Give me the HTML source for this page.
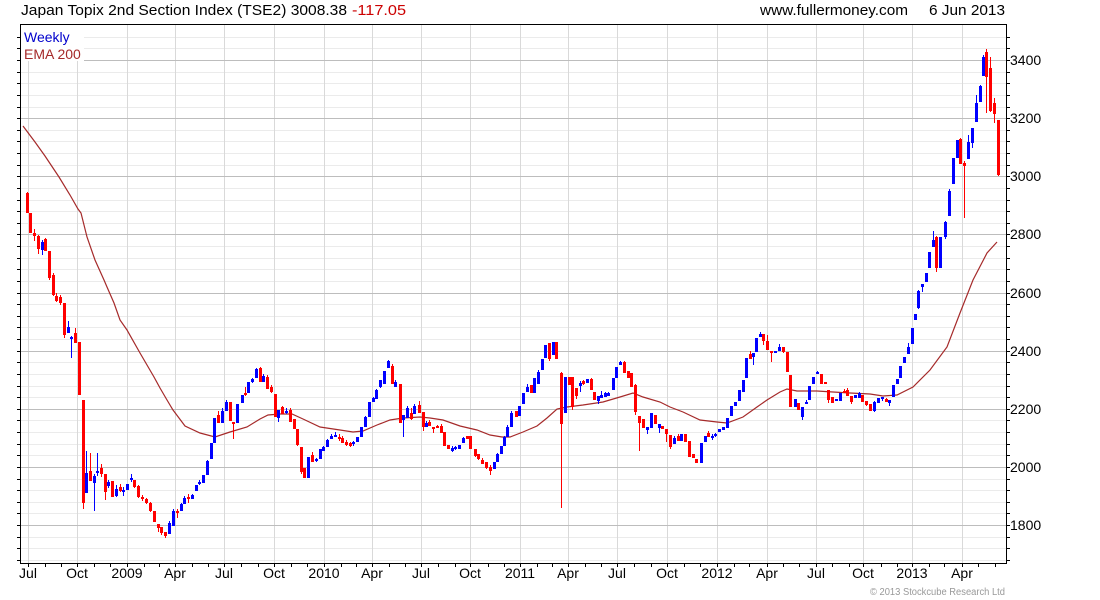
<!DOCTYPE html>
<html><head><meta charset="utf-8"><style>
html,body{margin:0;padding:0;background:#fff;}
svg{display:block;font-family:"Liberation Sans",Arial,sans-serif;}
</style></head><body>
<svg width="1100" height="600" viewBox="0 0 1100 600" xmlns="http://www.w3.org/2000/svg">
<rect width="1100" height="600" fill="#fff"/>
<!-- minor horizontal grid -->
<path fill="none" stroke="#ebebeb" stroke-width="1" d="M21 560.5H1006M21 548.5H1006M21 537.5H1006M21 513.5H1006M21 502.5H1006M21 490.5H1006M21 479.5H1006M21 455.5H1006M21 444.5H1006M21 432.5H1006M21 420.5H1006M21 397.5H1006M21 386.5H1006M21 374.5H1006M21 362.5H1006M21 339.5H1006M21 327.5H1006M21 316.5H1006M21 304.5H1006M21 281.5H1006M21 269.5H1006M21 258.5H1006M21 246.5H1006M21 223.5H1006M21 211.5H1006M21 200.5H1006M21 188.5H1006M21 165.5H1006M21 153.5H1006M21 141.5H1006M21 130.5H1006M21 107.5H1006M21 95.5H1006M21 83.5H1006M21 72.5H1006M21 48.5H1006M21 37.5H1006"/>
<!-- vertical grid -->
<path fill="none" stroke="#d9d9d9" stroke-width="1" d="M28.5 25V563M77.5 25V563M127.5 25V563M175.5 25V563M224.5 25V563M274.5 25V563M324.5 25V563M372.5 25V563M421.5 25V563M470.5 25V563M520.5 25V563M568.5 25V563M617.5 25V563M667.5 25V563M717.5 25V563M767.5 25V563M816.5 25V563M863.5 25V563M912.5 25V563M962.5 25V563"/>
<!-- major horizontal grid -->
<path fill="none" stroke="#bdbdbd" stroke-width="1" d="M21 525.5H1006M21 467.5H1006M21 409.5H1006M21 351.5H1006M21 293.5H1006M21 234.5H1006M21 176.5H1006M21 118.5H1006M21 60.5H1006"/>
<!-- legend background -->
<rect x="21" y="25" width="63" height="36" fill="#fff"/>
<text x="24" y="42" font-size="14" fill="#0000cc">Weekly</text>
<text x="24" y="59" font-size="14" fill="#a52a2a">EMA 200</text>
<!-- EMA -->
<polyline fill="none" stroke="#a52a2a" stroke-width="1.2" points="23,126 35,142 45,156 59,177 70,195 78,209 81,213 87,237 95,260 104,280 107,287 114,303 120,320 127,330 140,353 154,377 160,388 167,400 173,410 185,426 200,433 215,437 230,432 247,427 260,419 268,415 280,414 292,414 303,419 320,427 340,430 353,432 363,431 377,425 390,420 403,418 420,417 430,418 443,420 460,426 477,430 490,435 502,437 510,437 523,432 537,426 547,418 557,409 567,407 583,405 603,402 620,397 633,393 643,397 660,402 670,407 683,412 700,420 717,422 727,423 743,417 757,407 767,400 780,392 787,389 797,391 817,391 833,392 850,393 870,394 883,396 897,395 913,387 930,370 947,347 960,313 973,280 987,253 997,242"/>
<!-- red wicks -->
<path fill="none" stroke="#ff0000" stroke-width="1" d="M27.5 192V213M34.5 229V241M38.5 235V254M45.5 238V251M49.5 251V280M53.5 273V296M56.5 293V302M60.5 295V305M64.5 303V338M75.5 328V343M83.5 400V509M90.5 453V481M101.5 464V477M105.5 474V500M120.5 484V492M134.5 480V488M138.5 485V498M142.5 495V501M146.5 498V504M150.5 502V512M158.5 524V532M161.5 527V535M165.5 532V538M177.5 509V518M188.5 494V503M218.5 411V423M233.5 422V439M245.5 387V396M260.5 367V382M267.5 375V389M271.5 385V393M282.5 406V414M290.5 408V422M297.5 429V446M301.5 447V474M312.5 452V462M339.5 434V441M342.5 436V443M346.5 440V446M350.5 442V447M392.5 364V384M411.5 408V420M419.5 401V413M423.5 412V431M429.5 420V426M433.5 427V433M437.5 425V428M441.5 424V433M475.5 449V457M478.5 454V460M482.5 458V464M486.5 462V469M490.5 465V475M549.5 343V361M561.5 372V508M572.5 377V410M576.5 388V399M583.5 380V385M591.5 378V390M624.5 361V373M635.5 384V415M639.5 416V451M666.5 429V442M670.5 435V449M678.5 434V441M708.5 431V437M750.5 351V359M763.5 334V345M767.5 335V350M771.5 351V362M783.5 347V353M828.5 390V403M844.5 389V393M847.5 388V396M851.5 396V404M866.5 401V406M886.5 398V402M936.5 236V272M960.5 138V164M964.5 161V218M986.5 49V113M990.5 57V112M994.5 98V123M998.5 120V176"/>
<!-- red bodies -->
<path fill="none" stroke="#ff0000" stroke-width="3" d="M27.5 193V213M30.5 213V233M34.5 233V236M38.5 236V249M45.5 239V251M49.5 251V278M53.5 275V295M56.5 296V301M60.5 297V303M64.5 303V335M75.5 333V343M79.5 342V395M83.5 400V503M90.5 471V481M101.5 468V474M105.5 474V492M112.5 481V497M120.5 487V491M134.5 480V487M138.5 486V497M142.5 497V499M146.5 499V503M150.5 503V511M154.5 511V522M158.5 524V528M161.5 527V533M165.5 532V536M177.5 511V513M188.5 497V499M218.5 415V423M230.5 402V421M233.5 422V424M245.5 393V395M260.5 368V382M267.5 377V389M271.5 387V392M275.5 394V417M282.5 407V414M290.5 410V422M294.5 419V429M297.5 429V445M301.5 447V472M304.5 468V478M312.5 455V462M339.5 437V439M342.5 438V443M346.5 442V445M350.5 443V446M392.5 366V384M400.5 384V423M411.5 413V419M419.5 405V413M423.5 412V427M429.5 422V426M433.5 427V429M437.5 426V428M441.5 426V433M444.5 432V446M448.5 445V449M467.5 436V439M470.5 436V449M475.5 449V456M478.5 454V459M482.5 460V464M486.5 462V468M490.5 467V471M516.5 411V417M531.5 385V393M549.5 343V359M556.5 342V359M561.5 373V424M569.5 377V385M572.5 377V407M576.5 388V396M583.5 381V384M591.5 379V390M594.5 392V400M624.5 362V373M628.5 371V378M631.5 373V387M635.5 385V412M639.5 416V423M643.5 419V428M655.5 415V424M662.5 426V429M666.5 429V434M670.5 435V447M678.5 436V441M685.5 434V442M689.5 441V457M693.5 454V458M696.5 459V463M708.5 433V437M750.5 354V359M763.5 334V341M767.5 341V350M771.5 351V353M783.5 347V352M787.5 352V372M790.5 375V407M798.5 403V410M821.5 374V384M825.5 382V384M828.5 390V400M832.5 397V403M844.5 391V393M847.5 390V396M851.5 396V402M862.5 395V402M866.5 401V405M870.5 404V411M886.5 399V402M936.5 237V268M960.5 139V164M964.5 163V166M986.5 52V77M990.5 68V111M994.5 103V114M998.5 120V175"/>
<!-- blue wicks -->
<path fill="none" stroke="#0000ff" stroke-width="1" d="M42.5 240V255M68.5 321V333M71.5 336V358M86.5 451V493M94.5 474V511M97.5 453V476M108.5 480V488M116.5 485V497M123.5 487V496M131.5 474V482M169.5 521V534M173.5 509V526M181.5 503V511M184.5 496V504M192.5 494V499M199.5 480V485M207.5 460V475M222.5 408V423M226.5 400V411M252.5 378V383M256.5 368V378M263.5 374V382M278.5 410V422M286.5 408V414M316.5 458V462M323.5 446V451M327.5 439V447M331.5 434V439M335.5 432V437M353.5 441V446M365.5 416V427M373.5 397V402M376.5 389V399M380.5 380V388M388.5 360V368M395.5 380V387M403.5 415V437M407.5 406V418M414.5 404V414M426.5 421V427M452.5 446V452M455.5 446V450M463.5 437V443M497.5 453V462M504.5 436V446M507.5 425V437M511.5 411V427M527.5 384V392M538.5 370V384M580.5 381V392M598.5 396V404M601.5 391V398M605.5 392V397M608.5 392V396M620.5 361V365M647.5 427V434M659.5 424V433M674.5 436V444M712.5 434V440M715.5 433V437M753.5 353V365M760.5 332V337M779.5 344V351M802.5 407V420M806.5 400V404M817.5 371V374M859.5 392V398M874.5 401V412M882.5 397V401M889.5 400V406M908.5 343V354M918.5 290V309M922.5 284V292M933.5 231V247M945.5 221V239M949.5 189V216M968.5 135V159M972.5 128V148M976.5 95V122M980.5 85V102M983.5 55V76"/>
<!-- blue bodies -->
<path fill="none" stroke="#0000ff" stroke-width="3" d="M42.5 242V250M68.5 327V333M71.5 337V339M86.5 473V493M94.5 476V483M97.5 471V473M108.5 482V486M116.5 489V496M123.5 490V492M127.5 484V490M131.5 478V480M169.5 523V534M173.5 511V526M181.5 504V511M184.5 498V504M192.5 495V499M196.5 485V491M199.5 482V484M203.5 475V483M207.5 461V475M211.5 443V459M214.5 418V443M222.5 411V423M226.5 402V411M237.5 404V423M242.5 395V403M248.5 382V393M252.5 379V382M256.5 369V378M263.5 376V382M278.5 410V418M286.5 411V413M308.5 457V478M316.5 459V461M320.5 449V459M323.5 447V451M327.5 440V447M331.5 436V439M335.5 435V437M353.5 442V444M357.5 437V442M361.5 427V437M365.5 417V427M369.5 402V417M373.5 398V402M376.5 390V399M380.5 380V387M384.5 371V384M388.5 361V368M395.5 382V387M403.5 415V420M407.5 408V418M414.5 406V414M426.5 423V427M452.5 448V451M455.5 447V449M459.5 445V449M463.5 438V443M494.5 462V469M497.5 454V462M501.5 446V454M504.5 437V446M507.5 427V437M511.5 413V427M519.5 406V416M523.5 393V404M527.5 387V392M534.5 378V393M538.5 372V384M542.5 359V370M545.5 345V358M553.5 342V355M565.5 377V413M580.5 383V386M587.5 379V383M598.5 396V401M601.5 395V398M605.5 393V397M608.5 393V396M613.5 378V390M616.5 367V378M620.5 362V365M647.5 427V430M651.5 413V428M659.5 424V428M674.5 438V444M681.5 434V441M701.5 443V463M705.5 436V442M712.5 436V438M715.5 434V436M719.5 429V432M723.5 427V430M727.5 418V428M731.5 406V416M735.5 402V406M739.5 390V401M743.5 380V392M746.5 358V378M753.5 353V357M756.5 338V352M760.5 334V337M775.5 351V353M779.5 347V351M795.5 399V407M802.5 407V417M806.5 402V404M809.5 386V400M813.5 377V384M817.5 372V374M836.5 399V401M840.5 393V401M855.5 395V398M859.5 393V398M874.5 402V411M878.5 398V403M882.5 397V399M889.5 400V403M893.5 385V397M897.5 379V384M900.5 366V378M904.5 357V363M908.5 347V354M912.5 328V344M915.5 314V320M918.5 291V308M922.5 284V287M926.5 273V282M929.5 252V268M933.5 240V247M940.5 237V268M945.5 222V237M949.5 191V216M953.5 158V184M957.5 140V158M968.5 142V159M972.5 128V143M976.5 103V122M980.5 86V102M983.5 57V76"/>
<!-- frame -->
<rect x="20.5" y="24.5" width="986" height="539" fill="none" stroke="#000" stroke-width="1"/>
<!-- left/right ticks -->
<path fill="none" stroke="#000" stroke-width="1" d="M17 560.5H20M17 548.5H20M17 537.5H20M17 525.5H20M17 513.5H20M17 502.5H20M17 490.5H20M17 479.5H20M17 467.5H20M17 455.5H20M17 444.5H20M17 432.5H20M17 420.5H20M17 409.5H20M17 397.5H20M17 386.5H20M17 374.5H20M17 362.5H20M17 351.5H20M17 339.5H20M17 327.5H20M17 316.5H20M17 304.5H20M17 293.5H20M17 281.5H20M17 269.5H20M17 258.5H20M17 246.5H20M17 234.5H20M17 223.5H20M17 211.5H20M17 200.5H20M17 188.5H20M17 176.5H20M17 165.5H20M17 153.5H20M17 141.5H20M17 130.5H20M17 118.5H20M17 107.5H20M17 95.5H20M17 83.5H20M17 72.5H20M17 60.5H20M17 48.5H20M17 37.5H20
M1007 560.5H1010M1007 548.5H1010M1007 537.5H1010M1007 525.5H1010M1007 513.5H1010M1007 502.5H1010M1007 490.5H1010M1007 479.5H1010M1007 467.5H1010M1007 455.5H1010M1007 444.5H1010M1007 432.5H1010M1007 420.5H1010M1007 409.5H1010M1007 397.5H1010M1007 386.5H1010M1007 374.5H1010M1007 362.5H1010M1007 351.5H1010M1007 339.5H1010M1007 327.5H1010M1007 316.5H1010M1007 304.5H1010M1007 293.5H1010M1007 281.5H1010M1007 269.5H1010M1007 258.5H1010M1007 246.5H1010M1007 234.5H1010M1007 223.5H1010M1007 211.5H1010M1007 200.5H1010M1007 188.5H1010M1007 176.5H1010M1007 165.5H1010M1007 153.5H1010M1007 141.5H1010M1007 130.5H1010M1007 118.5H1010M1007 107.5H1010M1007 95.5H1010M1007 83.5H1010M1007 72.5H1010M1007 60.5H1010M1007 48.5H1010M1007 37.5H1010"/>
<!-- bottom month ticks -->
<path fill="none" stroke="#000" stroke-width="1" d="M28.5 564V567M45.5 564V567M61.5 564V567M77.5 564V567M94.5 564V567M110.5 564V567M127.5 564V567M144.5 564V567M159.5 564V567M175.5 564V567M192.5 564V567M208.5 564V567M224.5 564V567M241.5 564V567M258.5 564V567M274.5 564V567M291.5 564V567M307.5 564V567M324.5 564V567M341.5 564V567M356.5 564V567M372.5 564V567M389.5 564V567M405.5 564V567M421.5 564V567M438.5 564V567M455.5 564V567M470.5 564V567M488.5 564V567M504.5 564V567M520.5 564V567M537.5 564V567M552.5 564V567M568.5 564V567M585.5 564V567M601.5 564V567M617.5 564V567M634.5 564V567M651.5 564V567M667.5 564V567M684.5 564V567M700.5 564V567M717.5 564V567M734.5 564V567M749.5 564V567M767.5 564V567M783.5 564V567M799.5 564V567M816.5 564V567M832.5 564V567M849.5 564V567M863.5 564V567M881.5 564V567M897.5 564V567M912.5 564V567M929.5 564V567M944.5 564V567M962.5 564V567M978.5 564V567M995.5 564V567"/>
<!-- y labels -->
<g font-size="14" fill="#000">
<text x="1010" y="65">3400</text>
<text x="1010" y="123">3200</text>
<text x="1010" y="181">3000</text>
<text x="1010" y="239">2800</text>
<text x="1010" y="298">2600</text>
<text x="1010" y="356">2400</text>
<text x="1010" y="414">2200</text>
<text x="1010" y="472">2000</text>
<text x="1010" y="530">1800</text>
</g>
<!-- x labels -->
<g font-size="14" fill="#000" text-anchor="middle">
<text x="28" y="578">Jul</text>
<text x="77" y="578">Oct</text>
<text x="127" y="578">2009</text>
<text x="175" y="578">Apr</text>
<text x="224" y="578">Jul</text>
<text x="274" y="578">Oct</text>
<text x="324" y="578">2010</text>
<text x="372" y="578">Apr</text>
<text x="421" y="578">Jul</text>
<text x="470" y="578">Oct</text>
<text x="520" y="578">2011</text>
<text x="568" y="578">Apr</text>
<text x="617" y="578">Jul</text>
<text x="667" y="578">Oct</text>
<text x="717" y="578">2012</text>
<text x="767" y="578">Apr</text>
<text x="816" y="578">Jul</text>
<text x="863" y="578">Oct</text>
<text x="912" y="578">2013</text>
<text x="962" y="578">Apr</text>
</g>
<!-- title -->
<text x="21" y="15" font-size="15" fill="#000" textLength="326" lengthAdjust="spacingAndGlyphs">Japan Topix 2nd Section Index (TSE2) 3008.38</text>
<text x="352" y="15" font-size="15" fill="#cc0000" textLength="54" lengthAdjust="spacingAndGlyphs">-117.05</text>
<text x="760" y="15" font-size="15" fill="#000" textLength="148" lengthAdjust="spacingAndGlyphs">www.fullermoney.com</text>
<text x="929" y="15" font-size="15" fill="#000" textLength="76" lengthAdjust="spacingAndGlyphs">6 Jun 2013</text>
<text x="870" y="595" font-size="10" fill="#999" textLength="135" lengthAdjust="spacingAndGlyphs">© 2013 Stockcube Research Ltd</text>
</svg>
</body></html>
